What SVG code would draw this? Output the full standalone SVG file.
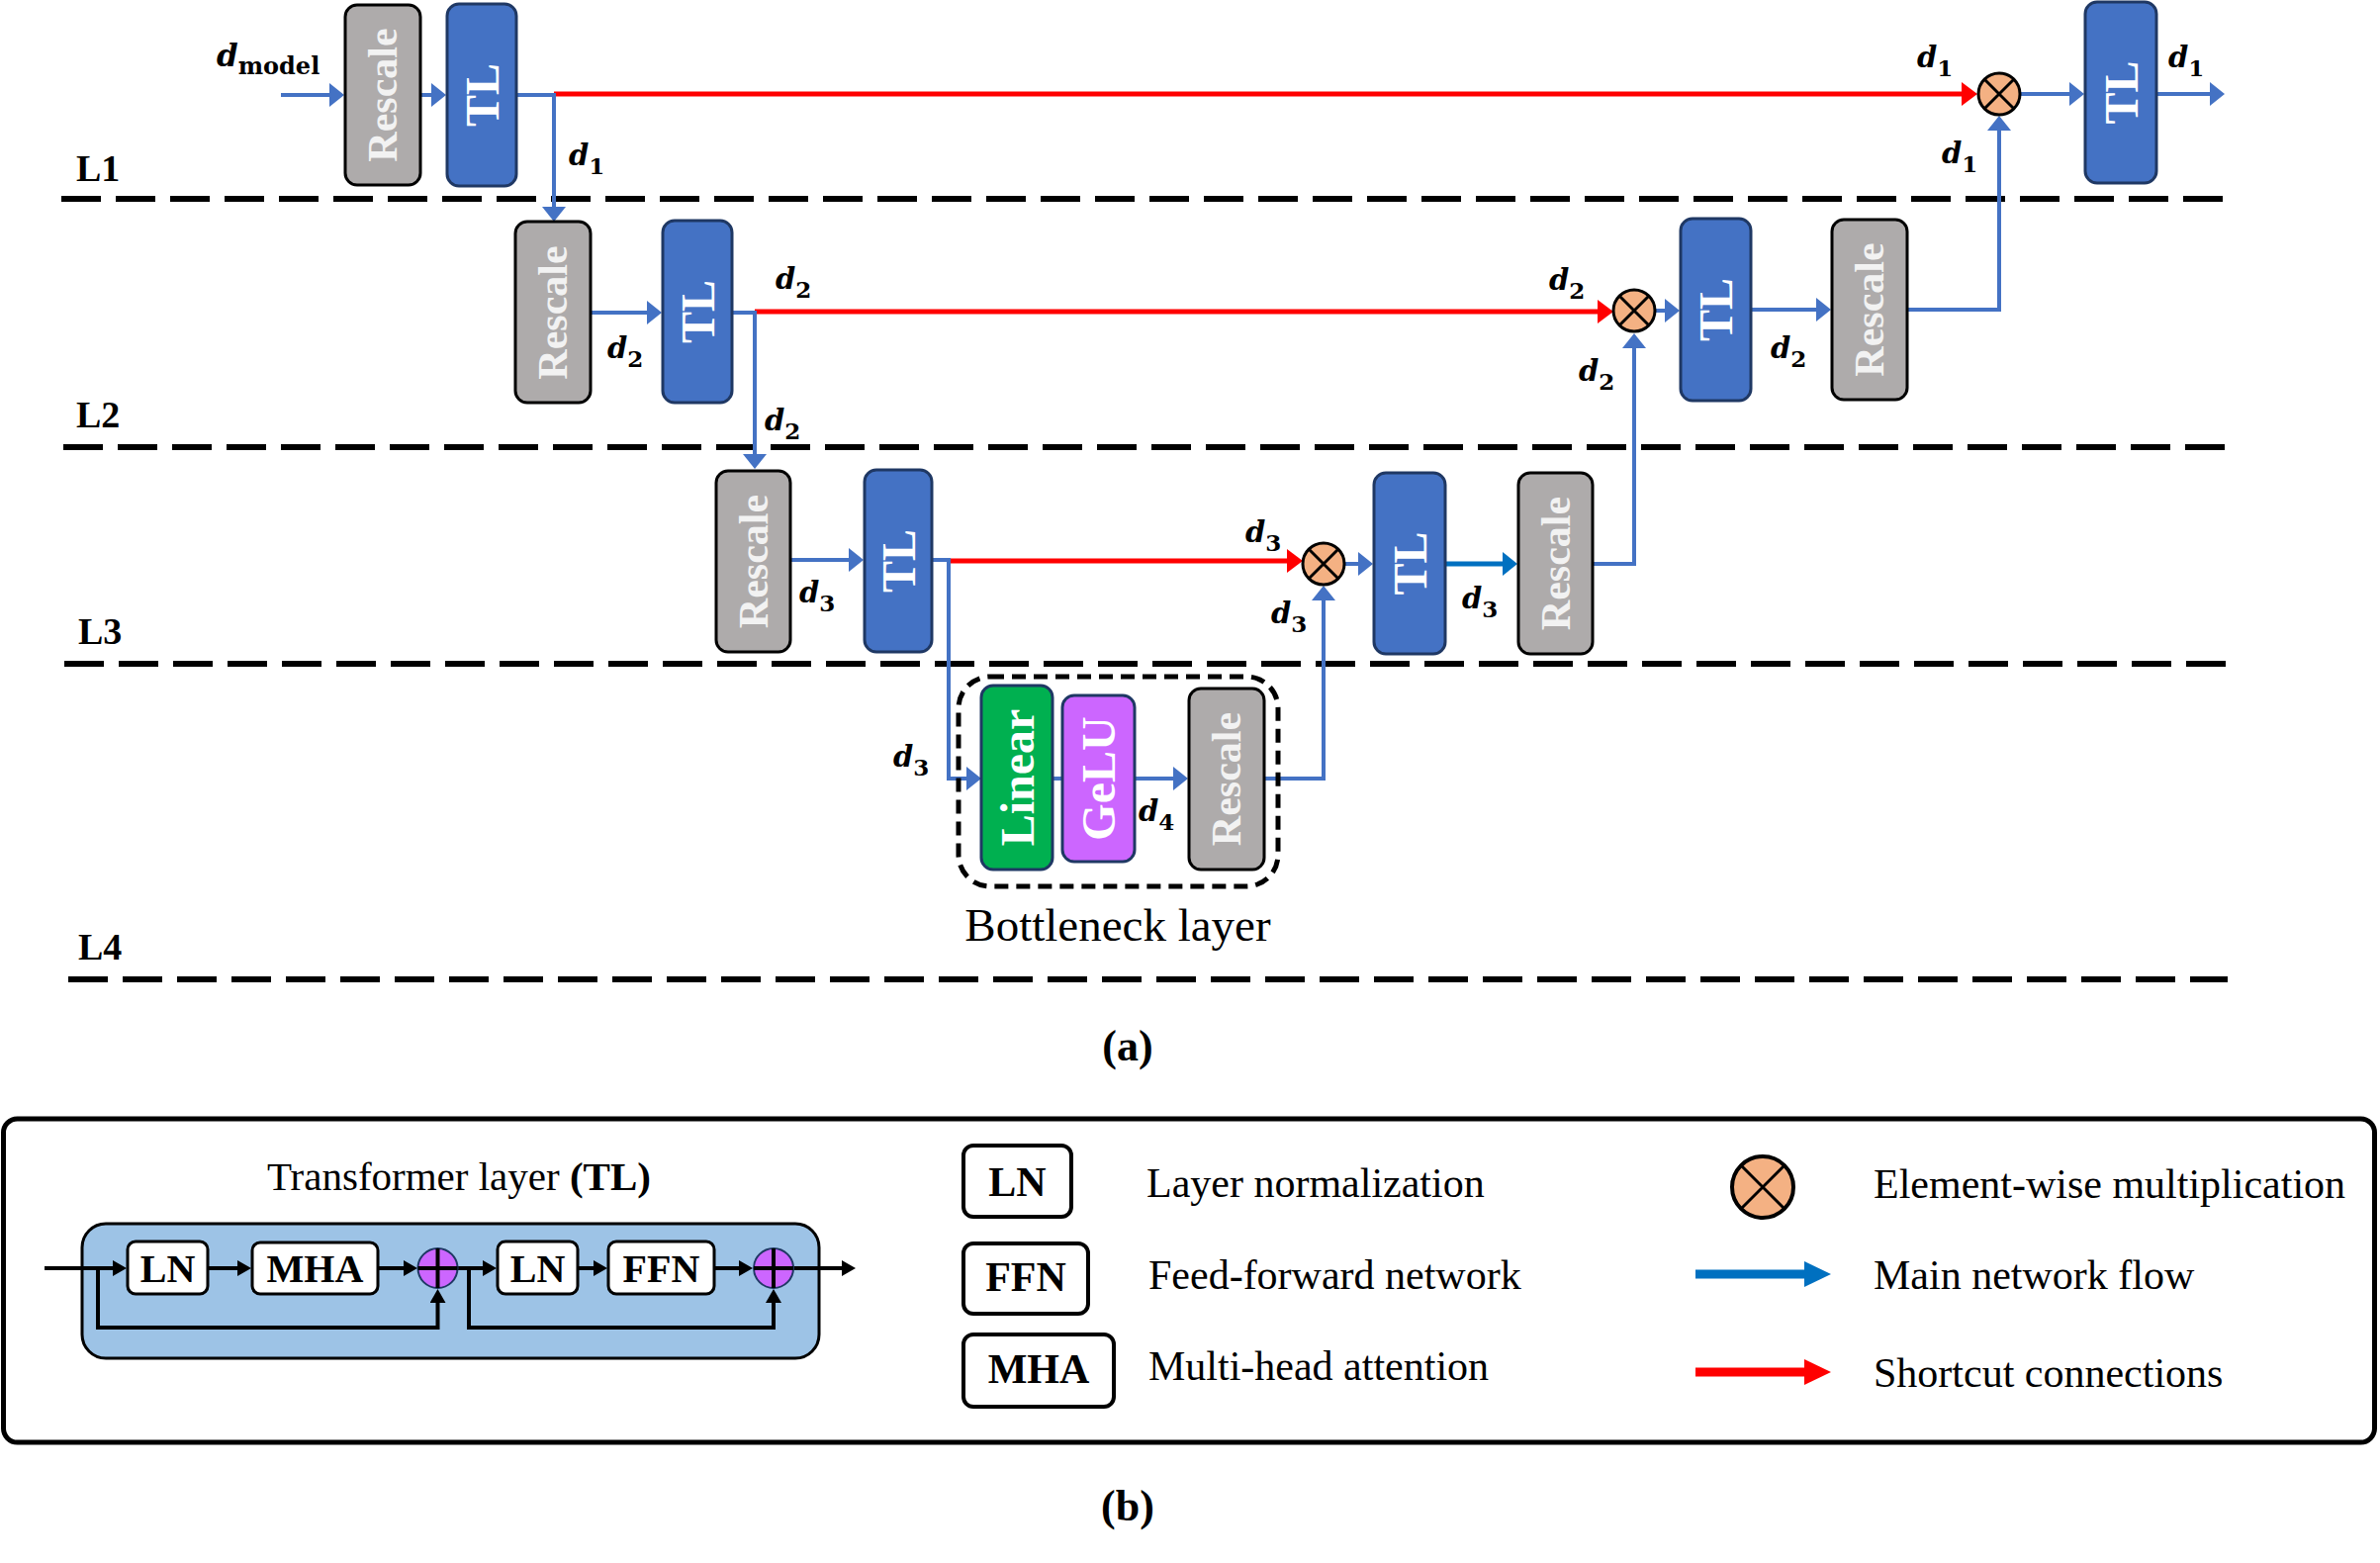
<svg xmlns="http://www.w3.org/2000/svg" width="2406" height="1580" viewBox="0 0 2406 1580">
<style>
.rs{fill:#AEABAB;stroke:#000;stroke-width:3}
.tl{fill:#4472C4;stroke:#1F3864;stroke-width:3}
.ln{fill:#00B050;stroke:#1F3864;stroke-width:3}
.ge{fill:#CC66FF;stroke:#1F3864;stroke-width:3}
.bt{font-family:"Liberation Serif",serif;font-weight:bold;text-anchor:middle;dominant-baseline:central}
.rst{fill:#F2F2F2;font-size:42px}
.tlt{fill:#FFFFFF;font-size:48px}
.dl{font-family:"DejaVu Serif",serif;font-weight:bold;font-style:italic;font-size:29px;fill:#000}
.sub{font-style:normal;font-size:23px}
.lab{font-family:"Liberation Serif",serif;font-weight:bold;font-size:38px;fill:#000}
.txt{font-family:"Liberation Serif",serif;font-size:42px;fill:#000}
.bx{font-family:"Liberation Serif",serif;font-weight:bold;font-size:40px;text-anchor:middle;fill:#000}
.bl{fill:none;stroke:#4472C4;stroke-width:4}
.rd{fill:none;stroke:#FF0000;stroke-width:5}
.dk{fill:none;stroke:#000;stroke-width:4}
.dash{stroke:#000;stroke-width:6;stroke-dasharray:40 15}
.mc{fill:#F4B183;stroke:#000;stroke-width:3}
.pc{fill:#CC66FF;stroke:#1F3864;stroke-width:2}
.wb{fill:#FFFFFF;stroke:#000;stroke-width:3}
</style>
<defs>
<marker id="ab" markerUnits="userSpaceOnUse" markerWidth="16" markerHeight="24" refX="1" refY="12" orient="auto" viewBox="0 0 16 24"><path d="M0,0 L15,12 L0,24 Z" fill="#4472C4"/></marker>
<marker id="ar" markerUnits="userSpaceOnUse" markerWidth="17" markerHeight="24" refX="1" refY="12" orient="auto" viewBox="0 0 17 24"><path d="M0,0 L16,12 L0,24 Z" fill="#FF0000"/></marker>
<marker id="ad" markerUnits="userSpaceOnUse" markerWidth="16" markerHeight="24" refX="1" refY="12" orient="auto" viewBox="0 0 16 24"><path d="M0,0 L15,12 L0,24 Z" fill="#0070C0"/></marker>
<marker id="ak" markerUnits="userSpaceOnUse" markerWidth="15" markerHeight="16" refX="1" refY="8" orient="auto" viewBox="0 0 15 16"><path d="M0,0 L14,8 L0,16 Z" fill="#000"/></marker>
<marker id="lgb" markerUnits="userSpaceOnUse" markerWidth="28" markerHeight="28" refX="1" refY="14" orient="auto" viewBox="0 0 28 28"><path d="M0,1 L27,14 L0,27 Z" fill="#0070C0"/></marker>
<marker id="lgr" markerUnits="userSpaceOnUse" markerWidth="28" markerHeight="28" refX="1" refY="14" orient="auto" viewBox="0 0 28 28"><path d="M0,1 L27,14 L0,27 Z" fill="#FF0000"/></marker>
</defs>
<rect width="2406" height="1580" fill="#FFFFFF"/>

<g id="levels">
<line class="dash" x1="62" y1="201" x2="2250" y2="201"/>
<line class="dash" x1="64" y1="452" x2="2250" y2="452"/>
<line class="dash" x1="65" y1="671" x2="2252" y2="671"/>
<line class="dash" x1="69" y1="990" x2="2252" y2="990"/>
<text class="lab" x="77" y="183">L1</text>
<text class="lab" x="77" y="432">L2</text>
<text class="lab" x="79" y="651">L3</text>
<text class="lab" x="79" y="970">L4</text>
</g>

<g id="connectors">
<path class="rd" d="M560,95 H1984" marker-end="url(#ar)"/>
<path class="rd" d="M763,315 H1616" marker-end="url(#ar)"/>
<path class="rd" d="M959,567 H1302" marker-end="url(#ar)"/>
<path class="bl" d="M284,96 H334" marker-end="url(#ab)"/>
<path class="bl" d="M425,96 H437" marker-end="url(#ab)"/>
<path class="bl" d="M522,96 H560 V210" marker-end="url(#ab)"/>
<path class="bl" d="M2042,95 H2093" marker-end="url(#ab)"/>
<path class="bl" d="M2180,95 H2235" marker-end="url(#ab)"/>
<path class="bl" d="M1928,313 H2021 V131" marker-end="url(#ab)"/>
<path class="bl" d="M597,316 H655" marker-end="url(#ab)"/>
<path class="bl" d="M740,316 H763 V460" marker-end="url(#ab)"/>
<path class="bl" d="M1673,314 H1684" marker-end="url(#ab)"/>
<path class="bl" d="M1770,313 H1837" marker-end="url(#ab)"/>
<path class="bl" d="M1610,570 H1652 V351" marker-end="url(#ab)"/>
<path class="bl" d="M799,566 H859" marker-end="url(#ab)"/>
<path class="bl" d="M942,566 H959 V787 H978" marker-end="url(#ab)"/>
<path class="bl" d="M1359,570 H1374" marker-end="url(#ab)"/>
<path d="M1461,570 H1520" fill="none" stroke="#0070C0" stroke-width="5" marker-end="url(#ad)"/>
<path class="bl" d="M1064,787 H1074"/>
<path class="bl" d="M1147,787 H1187" marker-end="url(#ab)"/>
<path class="bl" d="M1278,787 H1338 V606" marker-end="url(#ab)"/>
</g>

<g id="rescale-l1"><rect class="rs" x="349" y="5" width="76" height="182" rx="12"/><text class="bt rst" transform="translate(387,96) rotate(-90)">Rescale</text></g>
<g id="tl-l1"><rect class="tl" x="452" y="4" width="70" height="184" rx="12"/><text class="bt tlt" transform="translate(487,96) rotate(-90)">TL</text></g>
<g id="rescale-l2"><rect class="rs" x="521" y="224" width="76" height="183" rx="12"/><text class="bt rst" transform="translate(559,316) rotate(-90)">Rescale</text></g>
<g id="tl-l2"><rect class="tl" x="670" y="223" width="70" height="184" rx="12"/><text class="bt tlt" transform="translate(705,315) rotate(-90)">TL</text></g>
<g id="rescale-l3"><rect class="rs" x="724" y="476" width="75" height="183" rx="12"/><text class="bt rst" transform="translate(761.5,567.5) rotate(-90)">Rescale</text></g>
<g id="tl-l3"><rect class="tl" x="874" y="475" width="68" height="184" rx="12"/><text class="bt tlt" transform="translate(908,567) rotate(-90)">TL</text></g>

<g id="bottleneck">
<rect x="969" y="684" width="323" height="212" rx="32" fill="none" stroke="#000" stroke-width="5" stroke-dasharray="14 8"/>
<text class="txt" x="1130" y="951" text-anchor="middle" style="font-size:47px">Bottleneck layer</text>
</g>
<g id="linear"><rect class="ln" x="992" y="693" width="72" height="186" rx="12"/><text class="bt tlt" transform="translate(1028,786) rotate(-90)">Linear</text></g>
<g id="gelu"><rect class="ge" x="1074" y="703" width="73" height="168" rx="12"/><text class="bt tlt" transform="translate(1110.5,787) rotate(-90)">GeLU</text></g>
<g id="rescale-l4"><rect class="rs" x="1202" y="696" width="76" height="183" rx="12"/><text class="bt rst" transform="translate(1240,787.5) rotate(-90)">Rescale</text></g>

<g id="mult-l3"><circle class="mc" cx="1338" cy="570" r="21"/><path d="M1323,555 L1353,585 M1353,555 L1323,585" stroke="#000" stroke-width="3"/></g>
<g id="tl-l3r"><rect class="tl" x="1389" y="478" width="72" height="183" rx="12"/><text class="bt tlt" transform="translate(1425,569.5) rotate(-90)">TL</text></g>
<g id="rescale-l3r"><rect class="rs" x="1535" y="478" width="75" height="183" rx="12"/><text class="bt rst" transform="translate(1572.5,569.5) rotate(-90)">Rescale</text></g>
<g id="mult-l2"><circle class="mc" cx="1652" cy="314" r="21"/><path d="M1637,299 L1667,329 M1667,299 L1637,329" stroke="#000" stroke-width="3"/></g>
<g id="tl-l2r"><rect class="tl" x="1699" y="221" width="71" height="184" rx="12"/><text class="bt tlt" transform="translate(1734.5,313) rotate(-90)">TL</text></g>
<g id="rescale-l2r"><rect class="rs" x="1852" y="222" width="76" height="182" rx="12"/><text class="bt rst" transform="translate(1890,313) rotate(-90)">Rescale</text></g>
<g id="mult-l1"><circle class="mc" cx="2021" cy="95" r="21"/><path d="M2006,80 L2036,110 M2036,80 L2006,110" stroke="#000" stroke-width="3"/></g>
<g id="tl-l1r"><rect class="tl" x="2108" y="2" width="72" height="183" rx="12"/><text class="bt tlt" transform="translate(2144,93.5) rotate(-90)">TL</text></g>

<g id="dim-labels">
<text class="dl" x="219" y="67" style="font-size:31px">d<tspan class="sub" dy="8" style="font-size:24px">model</tspan></text>
<text class="dl" x="575" y="167">d<tspan class="sub" dy="9">1</tspan></text>
<text class="dl" x="1938" y="68">d<tspan class="sub" dy="9">1</tspan></text>
<text class="dl" x="2192" y="68">d<tspan class="sub" dy="9">1</tspan></text>
<text class="dl" x="1963" y="165">d<tspan class="sub" dy="9">1</tspan></text>
<text class="dl" x="614" y="362">d<tspan class="sub" dy="9">2</tspan></text>
<text class="dl" x="784" y="292">d<tspan class="sub" dy="9">2</tspan></text>
<text class="dl" x="773" y="435">d<tspan class="sub" dy="9">2</tspan></text>
<text class="dl" x="1566" y="293">d<tspan class="sub" dy="9">2</tspan></text>
<text class="dl" x="1596" y="385">d<tspan class="sub" dy="9">2</tspan></text>
<text class="dl" x="1790" y="362">d<tspan class="sub" dy="9">2</tspan></text>
<text class="dl" x="808" y="609">d<tspan class="sub" dy="9">3</tspan></text>
<text class="dl" x="1259" y="548">d<tspan class="sub" dy="9">3</tspan></text>
<text class="dl" x="1285" y="630">d<tspan class="sub" dy="9">3</tspan></text>
<text class="dl" x="1478" y="615">d<tspan class="sub" dy="9">3</tspan></text>
<text class="dl" x="903" y="775">d<tspan class="sub" dy="9">3</tspan></text>
<text class="dl" x="1151" y="830">d<tspan class="sub" dy="9">4</tspan></text>
</g>

<text id="caption-a" class="lab" x="1140" y="1072" text-anchor="middle" style="font-size:44px">(a)</text>

<g id="panel-b">
<rect x="3.5" y="1131" width="2397" height="327" rx="14" fill="none" stroke="#000" stroke-width="5"/>
</g>

<g id="tl-block">
<text class="txt" x="270" y="1203" style="font-size:41px">Transformer layer <tspan font-weight="bold">(TL)</tspan></text>
<rect x="83" y="1237" width="745" height="136" rx="24" fill="#9DC3E6" stroke="#000" stroke-width="3"/>
<g id="tl-connectors">
<path class="dk" d="M45,1282 H115" marker-end="url(#ak)"/>
<path class="dk" d="M210,1282 H241" marker-end="url(#ak)"/>
<path class="dk" d="M382,1282 H409" marker-end="url(#ak)"/>
<path class="dk" d="M462,1282 H489" marker-end="url(#ak)"/>
<path class="dk" d="M584,1282 H601" marker-end="url(#ak)"/>
<path class="dk" d="M722,1282 H748" marker-end="url(#ak)"/>
<path class="dk" d="M802,1282 H852" marker-end="url(#ak)"/>
<path class="dk" d="M99,1282 V1342 H442.5 V1316" marker-end="url(#ak)"/>
<path class="dk" d="M474,1282 V1342 H782 V1316" marker-end="url(#ak)"/>
</g>
<g id="tl-ln1"><rect class="wb" x="129" y="1255" width="81" height="53" rx="8"/><text class="bx" x="169.5" y="1296">LN</text></g>
<g id="tl-mha"><rect class="wb" x="255" y="1256" width="127" height="52" rx="8"/><text class="bx" x="318.5" y="1296">MHA</text></g>
<g id="tl-add1"><circle class="pc" cx="442.5" cy="1282" r="20"/><path d="M422.5,1282 H462.5 M442.5,1262 V1302" stroke="#000" stroke-width="4"/></g>
<g id="tl-ln2"><rect class="wb" x="503" y="1255" width="81" height="53" rx="8"/><text class="bx" x="543.5" y="1296">LN</text></g>
<g id="tl-ffn"><rect class="wb" x="615" y="1255" width="107" height="53" rx="8"/><text class="bx" x="668.5" y="1296">FFN</text></g>
<g id="tl-add2"><circle class="pc" cx="782" cy="1282" r="20"/><path d="M762,1282 H802 M782,1262 V1302" stroke="#000" stroke-width="4"/></g>
</g>

<g id="legend-ln"><rect x="974" y="1158" width="109" height="72" rx="10" fill="#fff" stroke="#000" stroke-width="4"/><text class="bx" x="1028.5" y="1209" style="font-size:42px">LN</text><text class="txt" x="1159" y="1210">Layer normalization</text></g>
<g id="legend-ffn"><rect x="974" y="1257" width="126" height="71" rx="10" fill="#fff" stroke="#000" stroke-width="4"/><text class="bx" x="1037" y="1305" style="font-size:42px">FFN</text><text class="txt" x="1161" y="1303">Feed-forward network</text></g>
<g id="legend-mha"><rect x="974" y="1349" width="152" height="73" rx="10" fill="#fff" stroke="#000" stroke-width="4"/><text class="bx" x="1050" y="1398" style="font-size:42px">MHA</text><text class="txt" x="1161" y="1395">Multi-head attention</text></g>
<g id="legend-mult"><circle cx="1782" cy="1200" r="31" fill="#F4B183" stroke="#000" stroke-width="4"/><path d="M1760,1178 L1804,1222 M1804,1178 L1760,1222" stroke="#000" stroke-width="3"/><text class="txt" x="1894" y="1211">Element-wise multiplication</text></g>
<g id="legend-main"><path d="M1714,1288 H1825" stroke="#0070C0" stroke-width="9" fill="none" marker-end="url(#lgb)"/><text class="txt" x="1894" y="1303">Main network flow</text></g>
<g id="legend-short"><path d="M1714,1387 H1825" stroke="#FF0000" stroke-width="9" fill="none" marker-end="url(#lgr)"/><text class="txt" x="1894" y="1402">Shortcut connections</text></g>

<text id="caption-b" class="lab" x="1140" y="1537" text-anchor="middle" style="font-size:44px">(b)</text>
</svg>
